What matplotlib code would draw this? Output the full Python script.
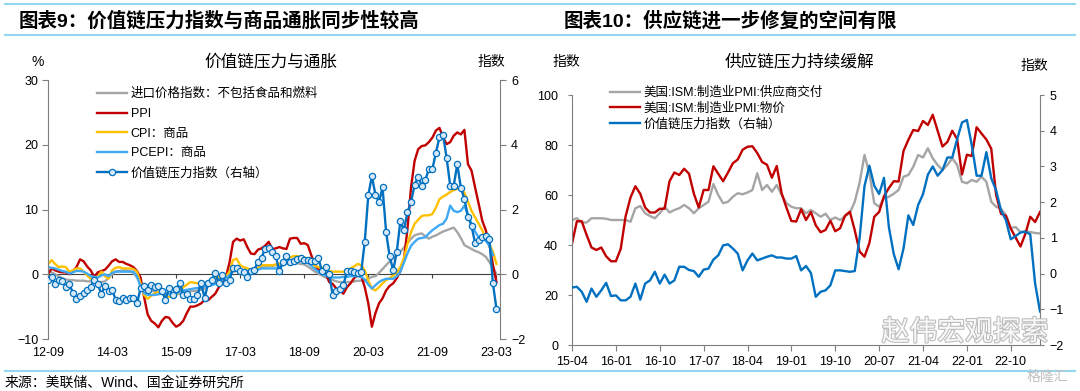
import matplotlib.pyplot as plt
import matplotlib.patheffects as pe
from matplotlib.lines import Line2D

#fuentes: numeros en Liberation Sans, chino en Noto Sans CJK
plt.rcParams['font.family'] = ['Liberation Sans', 'Noto Sans CJK SC']

# ---------------- datos panel izquierdo (mensual 2012-09 .. 2023-03) ----------------
etiquetas_izq = ['12-09', '14-03', '15-09', '17-03', '18-09', '20-03', '21-09', '23-03']

importaciones = [0.5, 0.3, 0.0, -0.3, -0.6, -0.8, -0.9, -0.9, -1.0, -1.0,
                 -1.0, -1.1, -1.1, -1.2, -1.2, -1.2, -1.1, -0.6, 0.0, 0.4,
                 0.5, 0.6, 0.6, 0.5, 0.2, -0.5, -1.3, -1.8, -2.2, -2.5,
                 -2.7, -2.8, -2.9, -3.0, -3.0, -3.1, -3.1, -3.0, -2.8, -2.7,
                 -2.6, -2.6, -2.5, -2.4, -2.2, -1.8, -1.3, -1.0, -0.6, -0.3,
                 0.0, 0.2, 0.4, 0.5, 0.5, 0.4, 0.4, 0.6, 0.8, 1.0,
                 1.1, 1.2, 1.3, 1.3, 1.4, 1.4, 1.5, 1.6, 1.6, 1.7,
                 1.7, 1.6, 1.5, 1.2, 0.8, 0.4, 0.1, -0.2, -0.5, -0.7,
                 -0.9, -1.1, -1.2, -1.2, -1.2, -1.2, -1.1, -1.0, -1.0, -1.1,
                 -0.7, -0.4, -0.3, 0.2, 0.8, 1.4, 2.0, 2.5, 3.0, 3.5,
                 4.1, 4.8, 5.5, 6.0, 6.2, 6.3, 5.9, 5.5, 5.8, 6.0,
                 6.3, 6.6, 6.8, 7.0, 7.2, 6.5, 5.6, 4.5, 4.2, 3.9,
                 3.6, 3.4, 3.1, 2.7, 1.9, 1.1, 0.0]

ppi = [0.0, 0.9, 0.6, 0.4, 0.3, 0.3, 0.0, 0.5, 1.1, 2.3,
       2.0, 1.2, 0.6, -0.4, 0.3, 0.5, 0.7, 1.3, 2.0, 2.3,
       1.9, 1.9, 1.6, 1.4, 1.1, 0.5, -0.5, -3.5, -6.2, -7.2,
       -7.6, -8.2, -7.2, -6.6, -6.7, -7.5, -8.1, -7.8, -7.2, -6.0,
       -5.0, -5.0, -4.8, -4.5, -4.0, -4.0, -3.5, -3.0, -2.0, -1.3,
       -0.4, 1.8, 5.0, 5.5, 5.2, 5.4, 4.2, 3.2, 3.1, 3.8,
       4.0, 4.4, 5.0, 3.9, 4.0, 4.2, 4.0, 3.9, 5.5, 5.6,
       5.6, 4.7, 4.8, 4.5, 2.9, 1.5, 0.6, 0.9, 0.2, -1.2,
       -1.5, -2.2, -2.5, -3.0, -2.0, -1.4, -0.6, -0.2, -0.3, -2.0,
       -4.5, -8.1, -6.0, -4.5, -3.7, -2.5, -1.8, -1.4, -0.6, 0.5,
       2.2, 7.0, 13.4, 17.5, 19.3, 19.8, 19.9, 20.4, 21.1, 22.2,
       22.6, 21.1, 20.1, 20.4, 21.4, 21.9, 21.6, 22.3, 17.0, 16.0,
       13.4, 10.9, 8.3, 6.8, 4.7, 1.5, -1.2]

cpi_bienes = [1.5, 2.2, 1.6, 1.1, 1.2, 1.1, 0.4, 0.6, 0.9, 0.9,
              0.4, -0.2, -0.7, -0.5, -0.4, 0.4, -0.3, -0.7, 0.6, 1.0,
              1.1, 0.9, 0.9, 0.9, 0.8, 0.4, -1.4, -3.2, -3.8, -3.3,
              -3.0, -2.7, -3.0, -3.3, -3.5, -3.4, -3.2, -2.6, -2.0, -1.6,
              -1.2, -1.3, -1.4, -1.6, -1.7, -1.3, -0.9, -0.6, -0.4, -0.4,
              -0.3, 0.4, 2.2, 2.4, 1.4, 1.1, 0.9, 0.7, 0.6, 1.0,
              1.4, 1.4, 1.4, 1.4, 1.5, 1.6, 2.0, 2.4, 2.6, 2.8,
              2.8, 2.7, 2.6, 2.4, 1.6, 1.3, 1.1, 1.0, 0.9, 0.5,
              0.4, 0.4, 0.4, 0.4, 0.6, 0.9, 1.2, 1.6, 1.4, 0.6,
              -1.0, -2.2, -2.5, -2.0, -1.4, -0.9, -0.6, -0.2, 0.3, 1.1,
              2.5, 4.7, 6.5, 7.8, 8.4, 9.0, 9.1, 9.1, 9.3, 10.3,
              11.6, 12.0, 12.3, 12.7, 13.0, 13.2, 13.2, 12.6, 11.2, 9.8,
              8.8, 7.8, 6.8, 5.6, 4.6, 3.5, 1.6]

pce_bienes = [1.1, 1.0, 0.9, 0.7, 0.5, 0.4, 0.1, 0.3, 0.5, 0.5,
              0.4, 0.1, -0.3, -0.4, -0.5, -0.2, 0.0, -0.3, 0.2, 0.4,
              0.4, 0.4, 0.4, 0.4, 0.4, -0.3, -2.0, -2.9, -3.2, -3.2,
              -3.2, -3.1, -3.0, -3.0, -3.1, -3.2, -3.0, -2.7, -2.5, -2.4,
              -2.3, -2.2, -2.1, -2.0, -1.9, -1.8, -1.7, -1.5, -1.2, -0.9,
              -0.6, -0.2, 0.6, 1.0, 0.7, 0.4, 0.5, 0.5, 0.6, 0.7,
              0.9, 0.9, 0.9, 0.9, 0.9, 1.1, 1.4, 1.7, 1.9, 2.1,
              2.2, 2.2, 2.1, 1.8, 1.3, 0.8, 0.4, 0.0, -0.2, -0.4,
              -0.5, -0.5, -0.5, -0.4, -0.4, -0.3, -0.3, -0.3, -0.4, -0.8,
              -1.6, -2.2, -1.7, -1.2, -0.9, -0.7, -0.7, -0.7, -0.3, 0.4,
              1.8, 3.2, 4.4, 5.0, 5.5, 5.6, 5.7, 6.3, 6.8, 7.2,
              7.6, 7.8, 8.6, 10.6, 9.8, 9.6, 9.8, 10.6, 9.2, 7.8,
              6.6, 5.7, 5.4, 5.2, 4.4, 3.0]

# indice de presion de la cadena de valor (eje derecho)
gscpi = [-0.18, -0.08, -0.3, -0.18, -0.2, -0.38, -0.3, -0.58, -0.75, -0.68,
         -0.58, -0.48, -0.38, -0.18, -0.3, -0.62, -0.35, -0.52, -0.48, -0.78,
         -0.84, -0.74, -0.8, -0.72, -0.72, -0.9, -0.44, -0.36, -0.5, -0.34,
         -0.39, -0.37, -0.51, -0.79, -0.42, -0.65, -0.47, -0.26, -0.63, -0.61,
         -0.75, -0.75, -0.65, -0.28, -0.73, -0.28, -0.19, 0.05, -0.28, -0.03,
         -0.28, -0.19, 0.19, 0.19, 0.1, 0.07, -0.09, 0.11, 0.14, 0.39,
         0.51, 0.79, 0.82, 0.7, 0.56, 0.09, 0.37, 0.56, 0.37, 0.42,
         0.47, 0.51, 0.45, 0.45, 0.42, 0.42, 0.49, 0.09, 0.21, 0.02,
         -0.65, -0.51, -0.47, -0.33, 0.09, 0.09, 0.07, 0.05, 0.07, 1.0,
         2.45, 3.02, 2.46, 2.23, 2.68, 1.3, 0.55, 0.12, 0.7, 1.63,
         1.36, 1.92, 2.22, 2.77, 3.0, 2.74, 2.9, 3.25, 3.25, 3.76,
         4.23, 4.3, 3.6, 2.74, 2.74, 3.4, 2.67, 2.33, 1.77, 1.5,
         0.96, 1.05, 1.15, 1.17, 1.1, -0.28, -1.06]

# ---------------- datos panel derecho (mensual 2015-04 .. 2023-04) ----------------
etiquetas_der = ['15-04', '16-01', '16-10', '17-07', '18-04', '19-01',
                 '19-10', '20-07', '21-04', '22-01', '22-10']

ism_entregas = [50.0, 50.7, 49.0, 49.0, 50.7, 50.7, 50.7, 50.5, 50.0, 50.0,
                50.0, 50.0, 49.3, 54.7, 55.6, 52.7, 51.6, 50.7, 52.7, 55.3,
                53.0, 54.0, 54.7, 56.0, 54.7, 52.7, 54.7, 56.0, 57.3, 64.4,
                60.0, 56.7, 57.3, 59.3, 60.7, 60.3, 61.0, 62.0, 68.7, 62.0,
                64.0, 61.3, 64.0, 60.0, 56.7, 55.3, 54.7, 54.7, 52.7, 54.0,
                52.7, 51.3, 52.5, 50.0, 51.0, 50.0, 51.5, 52.9, 57.3, 65.0,
                76.0, 68.7, 56.7, 55.3, 58.7, 59.3, 60.5, 62.0, 67.3, 68.0,
                71.3, 76.0, 75.0, 78.7, 74.7, 72.0, 70.0, 72.0, 74.7, 72.0,
                65.3, 64.7, 66.0, 65.3, 67.3, 65.3, 57.3, 55.3, 54.5, 52.0,
                46.8, 47.2, 45.1, 45.6, 45.2, 44.8, 44.6]

ism_precios = [40.5, 49.5, 49.5, 44.0, 39.0, 38.0, 39.0, 35.5, 33.5,
               33.5, 38.5, 51.5, 59.0, 63.5, 60.5, 55.0, 53.0, 53.0, 54.5, 54.5, 65.5,
               69.0, 68.0, 70.5, 68.5, 60.5, 55.0, 62.0, 62.0, 71.5, 68.5, 65.5, 69.0,
               72.7, 74.2, 78.1, 79.3, 79.5, 76.8, 73.2, 72.1, 66.9, 71.6, 60.7, 54.9,
               49.6, 49.4, 54.3, 50.0, 53.2, 47.9, 45.1, 46.0, 49.7, 45.5, 46.7, 51.7,
               53.3, 45.9, 37.4, 35.3, 40.8, 51.3, 53.2, 59.5, 62.8, 65.5, 65.4, 77.6,
               82.1, 86.0, 85.6, 89.6, 88.0, 92.1, 85.7, 79.4, 81.2, 85.7, 82.4, 68.2,
               76.1, 75.6, 87.1, 84.6, 82.2, 78.5, 60.0, 52.5, 51.7, 46.6, 43.0, 39.4,
               44.5, 51.3, 49.2, 53.2]

gscpi_der = gscpi[30:]

GRIS = '#a5a5a5'
ROJO = '#c00000'
AMARILLO = '#ffc000'
CELESTE = '#3fa9f5'
AZUL = '#0070c0'
EJE = '#7f7f7f'
LINEA = '#93d7f2'

fig = plt.figure(figsize=(10.8, 3.91), dpi=100)

#lineas decorativas y titulos
fig.add_artist(Line2D([0.005, 0.995], [0.990, 0.990], color=LINEA, lw=1.5))
fig.add_artist(Line2D([0.005, 0.995], [0.910, 0.910], color=LINEA, lw=1.5))
fig.add_artist(Line2D([0.005, 0.995], [0.051, 0.051], color=LINEA, lw=1.5))
fig.text(19 / 1080, 1 - 21 / 391, '图表9：价值链压力指数与商品通胀同步性较高',
         fontsize=14, fontweight='bold', va='center', ha='left')
fig.text(564 / 1080, 1 - 21 / 391, '图表10：供应链进一步修复的空间有限',
         fontsize=14, fontweight='bold', va='center', ha='left')
fig.text(5 / 1080, 1 - 383 / 391, '来源：美联储、Wind、国金证券研究所',
         fontsize=10, va='center', ha='left')

# ---------------- panel izquierdo ----------------
ax1 = fig.add_axes([48 / 1080, 1 - 339 / 391, 452 / 1080, 259 / 391])
ax1b = ax1.twinx()
meses = list(range(len(ppi)))

ax1.plot(meses, importaciones, color=GRIS, lw=1.7)
ax1.plot(meses, ppi, color=ROJO, lw=1.7)
ax1.plot(meses, cpi_bienes, color=AMARILLO, lw=1.7)
ax1.plot(list(range(len(pce_bienes))), pce_bienes, color=CELESTE, lw=1.7)
ax1b.plot(meses, gscpi, color=AZUL, lw=1.7, marker='o', ms=4.5,
          mfc='#d6e7f7', mec=AZUL, mew=0.9)

ax1.set_xlim(0, 127)
ax1.set_ylim(-10, 30)
ax1b.set_ylim(-2, 6)
ax1.set_yticks([-10, 0, 10, 20, 30])
ax1b.set_yticks([-2, 0, 2, 4, 6])
ticks_izq = list(range(0, 127, 18))
ax1.set_xticks(ticks_izq, etiquetas_izq)
ax1.tick_params(axis='x', length=0, pad=6, labelsize=9)
ax1.tick_params(axis='y', length=4, pad=3, labelsize=9, color=EJE)
ax1b.tick_params(axis='y', length=4, pad=4, labelsize=9, color=EJE)
for s in ['top', 'right', 'bottom']:
    ax1.spines[s].set_visible(False)
for s in ['top', 'left', 'bottom']:
    ax1b.spines[s].set_visible(False)
ax1.spines['left'].set_color(EJE)
ax1b.spines['right'].set_color(EJE)

#eje x sobre el cero con sus marcas
eje0 = ax1.secondary_xaxis(0.25)
eje0.set_xticks(ticks_izq)
eje0.tick_params(axis='x', labelbottom=False, length=3, color='#404040')
eje0.spines['bottom'].set_color('#404040')
eje0.spines['top'].set_color('#404040')

manejadores = [Line2D([], [], color=GRIS, lw=1.7),
               Line2D([], [], color=ROJO, lw=1.7),
               Line2D([], [], color=AMARILLO, lw=1.7),
               Line2D([], [], color=CELESTE, lw=1.7),
               Line2D([], [], color=AZUL, lw=1.7, marker='o', ms=4.5,
                      mfc='#d6e7f7', mec=AZUL, mew=0.9)]
nombres = ['进口价格指数：不包括食品和燃料', 'PPI', 'CPI：商品', 'PCEPI：商品',
           '价值链压力指数（右轴）']
fig.legend(manejadores, nombres, loc='upper left',
           bbox_to_anchor=(97 / 1080, 1 - 88 / 391), frameon=False,
           fontsize=9, handlelength=2.4, handletextpad=0.3,
           labelspacing=0.62, borderpad=0, borderaxespad=0)

fig.text(38 / 1080, 1 - 62 / 391, '%', fontsize=10, ha='center', va='center')
fig.text(271 / 1080, 1 - 62 / 391, '价值链压力与通胀', fontsize=12,
         ha='center', va='center')
fig.text(491 / 1080, 1 - 62 / 391, '指数', fontsize=10, ha='center', va='center')

# ---------------- panel derecho ----------------
ax2 = fig.add_axes([572 / 1080, 1 - 345 / 391, 468 / 1080, 250 / 391])
ax2b = ax2.twinx()
meses_der = list(range(len(ism_precios)))

ax2.plot(meses_der, ism_entregas, color=GRIS, lw=1.7)
ax2.plot(meses_der, ism_precios, color=ROJO, lw=1.7)
ax2b.plot(list(range(len(gscpi_der))), gscpi_der, color=AZUL, lw=1.7)

ax2.set_xlim(0, 96)
ax2.set_ylim(0, 100)
ax2b.set_ylim(-2, 5)
ax2.set_yticks(range(0, 101, 20))
ax2b.set_yticks(range(-2, 6))
ax2.set_xticks(list(range(0, 97, 9)), etiquetas_der)
ax2.tick_params(axis='x', length=4, pad=4, labelsize=9, color=EJE)
ax2.tick_params(axis='y', length=3, pad=7, labelsize=9, color=EJE)
ax2b.tick_params(axis='y', length=3, pad=4, labelsize=9, color=EJE)
for s in ['top', 'right']:
    ax2.spines[s].set_visible(False)
for s in ['top', 'left', 'bottom']:
    ax2b.spines[s].set_visible(False)
ax2.spines['left'].set_color(EJE)
ax2.spines['bottom'].set_color(EJE)
ax2b.spines['right'].set_color(EJE)

manejadores2 = [Line2D([], [], color=GRIS, lw=1.7),
                Line2D([], [], color=ROJO, lw=1.7),
                Line2D([], [], color=AZUL, lw=1.7)]
nombres2 = ['美国:ISM:制造业PMI:供应商交付', '美国:ISM:制造业PMI:物价',
            '价值链压力指数（右轴）']
fig.legend(manejadores2, nombres2, loc='upper left',
           bbox_to_anchor=(610 / 1080, 1 - 87 / 391), frameon=False,
           fontsize=9, handlelength=2.4, handletextpad=0.3,
           labelspacing=0.25, borderpad=0, borderaxespad=0)

fig.text(566 / 1080, 1 - 62 / 391, '指数', fontsize=10, ha='center', va='center')
fig.text(799 / 1080, 1 - 62 / 391, '供应链压力持续缓解', fontsize=12,
         ha='center', va='center')
fig.text(1034 / 1080, 1 - 66 / 391, '指数', fontsize=10, ha='center', va='center')

#marca de agua
fig.text(965 / 1080, 1 - 333 / 391, '赵伟宏观探索', fontsize=20, color='white',
         ha='center', va='center', alpha=0.9,
         path_effects=[pe.withStroke(linewidth=1.6, foreground='#b5b5b5')])
fig.text(1047 / 1080, 1 - 377 / 391, '格隆汇', fontsize=10, color='#c0c0c0',
         ha='center', va='center')

fig.savefig('out.png', dpi=100)
